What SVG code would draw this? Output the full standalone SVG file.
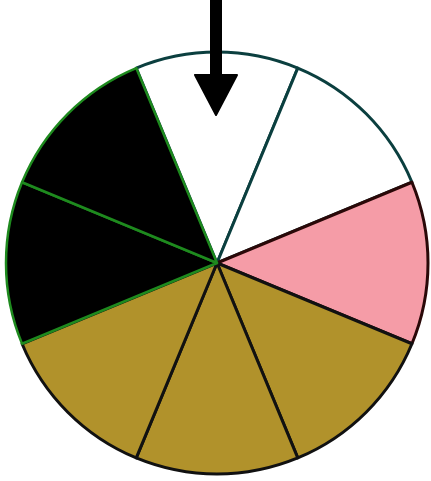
<svg xmlns="http://www.w3.org/2000/svg" width="431" height="481" viewBox="0 0 431 481">
<style>
.w{fill:#ffffff;stroke:#0b3f3f;stroke-width:3;stroke-linejoin:round}
.p{fill:#f59ca7;stroke:#2a0808;stroke-width:3;stroke-linejoin:round}
.o{fill:#b1922b;stroke:#111;stroke-width:3;stroke-linejoin:round}
.b{fill:#000;stroke:#1e8a1e;stroke-width:2.5;stroke-linejoin:round}
</style>
<rect width="431" height="481" fill="#fff"/>
<g id="sectors">
<path id="s1" class="w" d="M217 263 L136.25 68.06 A211 211 0 0 1 297.75 68.06 Z"/>
<path id="s2" class="w" d="M217 263 L297.75 68.06 A211 211 0 0 1 411.94 182.25 Z"/>
<path id="s3" class="p" d="M217 263 L411.94 182.25 A211 211 0 0 1 411.94 343.75 Z"/>
<path id="s4" class="o" d="M217 263 L411.94 343.75 A211 211 0 0 1 297.75 457.94 Z"/>
<path id="s5" class="o" d="M217 263 L297.75 457.94 A211 211 0 0 1 136.25 457.94 Z"/>
<path id="s6" class="o" d="M217 263 L136.25 457.94 A211 211 0 0 1 22.06 343.75 Z"/>
<path id="s7" class="b" d="M217 263 L22.06 343.75 A211 211 0 0 1 22.06 182.25 Z"/>
<path id="s8" class="b" d="M217 263 L22.06 182.25 A211 211 0 0 1 136.25 68.06 Z"/>
</g>
<g id="pointer">
<rect x="210" y="0" width="12" height="78" fill="#000"/>
<polygon points="195,75 237,75 216,115" fill="#000" stroke="#000" stroke-width="2" stroke-linejoin="round"/>
</g>
</svg>
